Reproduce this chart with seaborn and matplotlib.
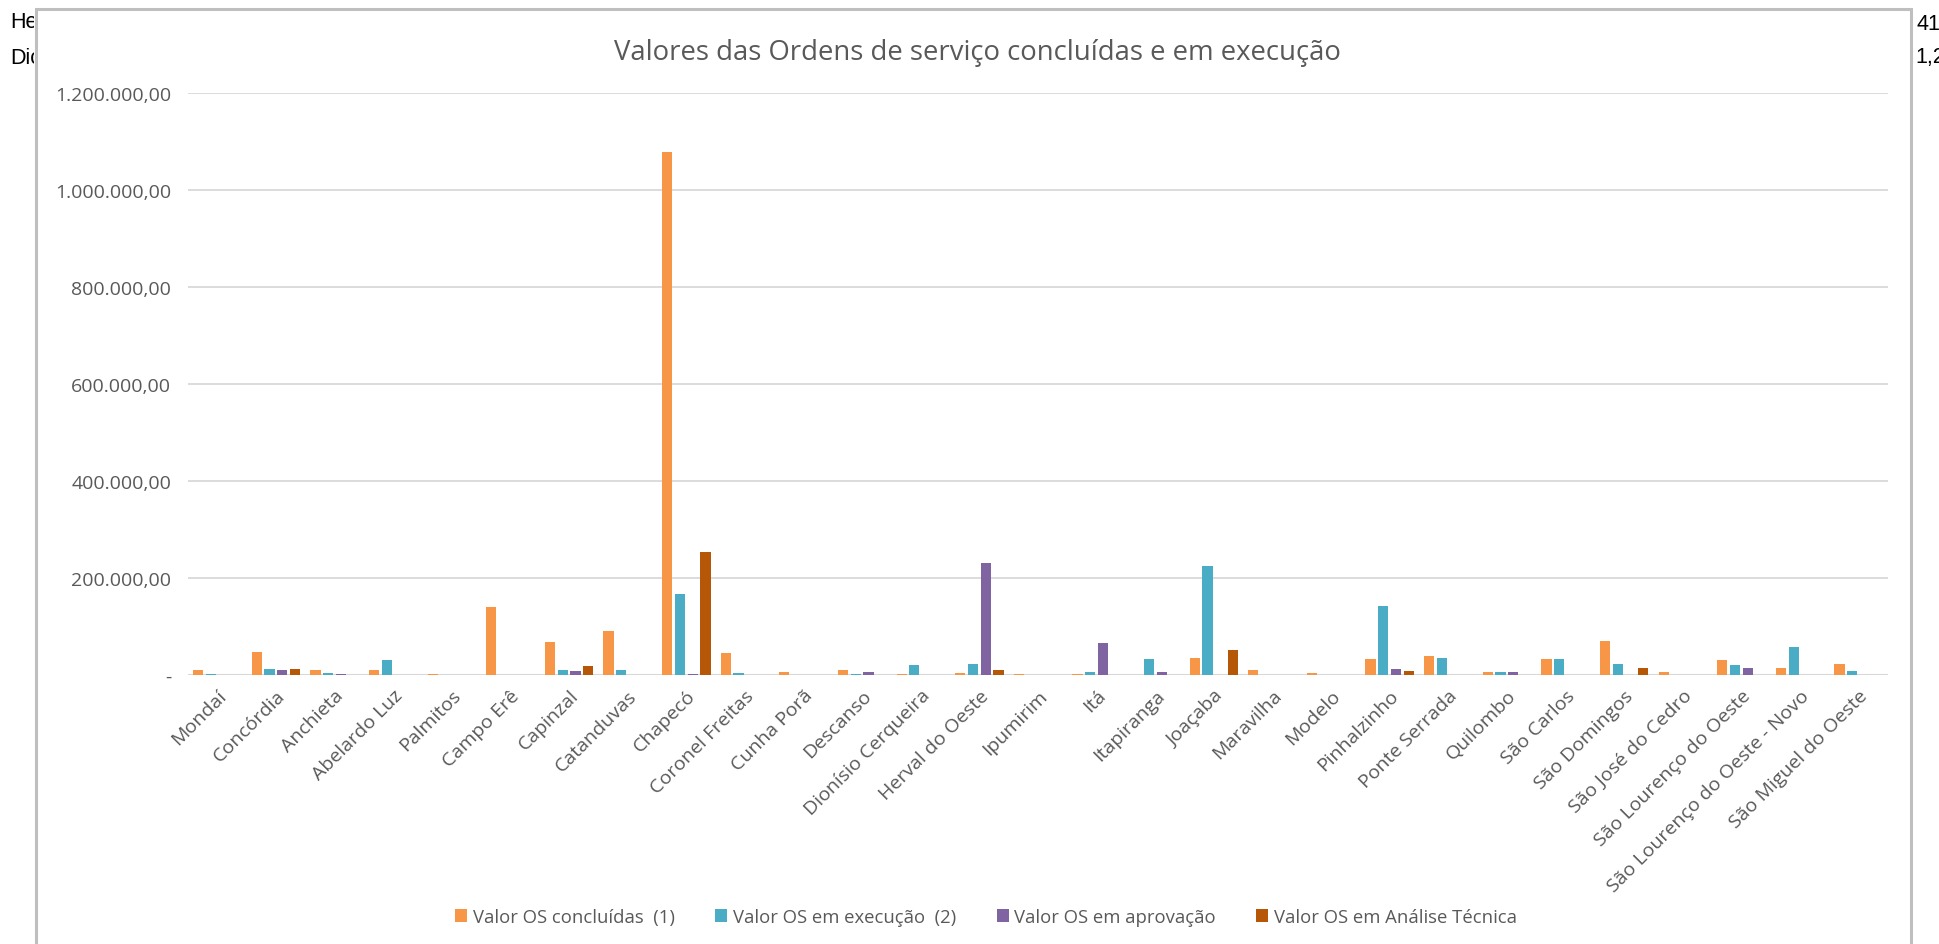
import pandas as pd
import matplotlib
matplotlib.use("Agg")
import matplotlib.pyplot as plt
import seaborn as sns
from matplotlib.patches import Rectangle
from matplotlib.ticker import FuncFormatter
from matplotlib.transforms import Bbox

# dados
cidades = ["Mondaí", "Concórdia", "Anchieta", "Abelardo Luz", "Palmitos", "Campo Erê",
           "Capinzal", "Catanduvas", "Chapecó", "Coronel Freitas", "Cunha Porã", "Descanso",
           "Dionísio Cerqueira", "Herval do Oeste", "Ipumirim", "Itá", "Itapiranga", "Joaçaba",
           "Maravilha", "Modelo", "Pinhalzinho", "Ponte Serrada", "Quilombo", "São Carlos",
           "São Domingos", "São José do Cedro", "São Lourenço do Oeste",
           "São Lourenço do Oeste - Novo", "São Miguel do Oeste"]

concluidas = [9700, 48000, 9700, 9700, 2800, 140000, 67600, 91700, 1079000, 45800,
              6200, 10300, 2800, 3400, 2800, 2800, 700, 35900, 10300, 4800,
              32400, 40000, 6900, 32400, 70300, 6200, 30300, 13800, 22800]
execucao = [2000, 12400, 4000, 30000, 700, 700, 10300, 11000, 166000, 3400,
            700, 2800, 20700, 23400, 700, 6900, 32400, 224000, 700, 700,
            143000, 35900, 6900, 32400, 23400, 700, 20000, 57200, 9000]
aprovacao = [0, 9700, 1400, 0, 0, 700, 7600, 0, 2000, 0,
             0, 6900, 700, 231000, 0, 65500, 6200, 0, 0, 0,
             11700, 0, 5500, 0, 700, 0, 13800, 0, 0]
analise = [0, 11700, 0, 0, 0, 0, 19300, 0, 254000, 0,
           0, 0, 0, 11000, 0, 0, 0, 52400, 0, 0,
           7600, 0, 700, 0, 15200, 0, 0, 0, 0]

series = ["Valor OS concluídas  (1)", "Valor OS em execução  (2)",
          "Valor OS em aprovação", "Valor OS em Análise Técnica"]
cores = ["#F79646", "#4BACC6", "#8064A2", "#B65708"]

df = pd.DataFrame({"Cidade": cidades, series[0]: concluidas, series[1]: execucao,
                   series[2]: aprovacao, series[3]: analise})
df_long = df.melt(id_vars="Cidade", var_name="Serie", value_name="Valor")

sns.set_theme(style="white")
plt.rcParams["font.family"] = ["Open Sans", "DejaVu Sans"]

W, H = 1939, 945
fig = plt.figure(figsize=(W / 100, H / 100), dpi=100)
ax = fig.add_axes([188 / W, 1 - 676 / H, 1700 / W, 582 / H])

sns.barplot(data=df_long, x="Cidade", y="Valor", hue="Serie", hue_order=series,
            palette=cores, width=0.87, gap=0.2, ax=ax, saturation=1,
            edgecolor="none", linewidth=0, errorbar=None)

ax.set_ylim(0, 1200000)
ax.set_yticks(range(0, 1200001, 200000))


def formato_br(v, pos):
    if v == 0:
        return "-"
    return f"{v:,.2f}".replace(",", "X").replace(".", ",").replace("X", ".")


ax.yaxis.set_major_formatter(FuncFormatter(formato_br))
ax.yaxis.grid(True, color="#D9D9D9", linewidth=1.3)
ax.set_axisbelow(True)
ax.axhline(0, color="#D0D0D0", linewidth=2.2, zorder=0.5)
for s in ax.spines.values():
    s.set_visible(False)
ax.set_xlabel("")
ax.set_ylabel("")
ax.tick_params(axis="y", length=0, pad=12, labelsize=14, labelcolor="#595959")
ax.tick_params(axis="x", length=0, pad=8, labelsize=14, labelcolor="#595959")
for lbl in ax.get_xticklabels():
    lbl.set_rotation(45)
    lbl.set_ha("right")
    lbl.set_va("top")
    lbl.set_rotation_mode("anchor")

handles, labels = ax.get_legend_handles_labels()
ax.legend_.remove()
fig.legend(handles, labels, loc="center", bbox_to_anchor=(986 / W, 1 - 918 / H),
           ncol=4, frameon=False, fontsize=13.3, labelcolor="#595959",
           handlelength=0.65, handleheight=0.65, handletextpad=0.3, columnspacing=2.2)

fig.text(977 / W, 1 - 53 / H, "Valores das Ordens de serviço concluídas e em execução",
         ha="center", va="center", fontsize=19.8, color="#595959")

# moldura do grafico do Excel
fig.add_artist(Rectangle((36 / W, -0.05), 1875 / W, 1.05 - 10 / H, transform=fig.transFigure,
                         fill=False, edgecolor="#BFBFBF", linewidth=2.2))

# restos da planilha por tras do grafico
esq = Bbox([[0, 0], [34, H]])
dir_ = Bbox([[1913, 0], [W, H]])
for txt, y in [("Hec", 23), ("Dic", 58)]:
    t = fig.text(10 / W, 1 - y / H, txt, ha="left", va="center", fontsize=15.5,
                 color="black", family=["Liberation Sans", "DejaVu Sans"])
    t.set_clip_box(esq)
for txt, y in [("41", 25), ("1,2", 58)]:
    x = 1940 if txt == "41" else 1945
    t = fig.text(x / W, 1 - y / H, txt, ha="right", va="center", fontsize=15.5,
                 color="black", family=["Liberation Sans", "DejaVu Sans"])
    t.set_clip_box(dir_)

fig.savefig("out.png", dpi=100, facecolor="white")
